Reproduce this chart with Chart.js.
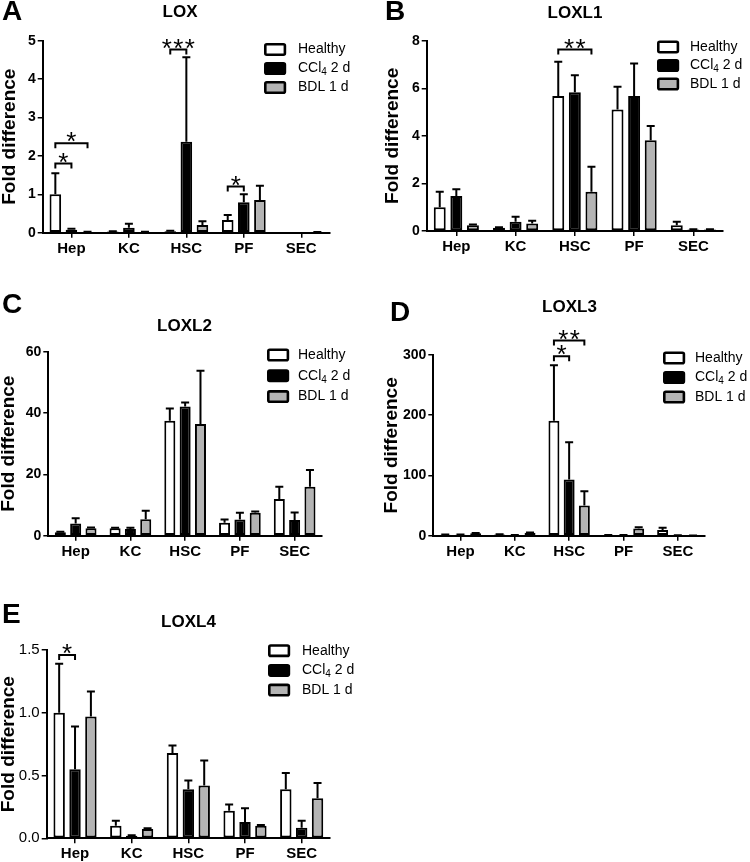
<!DOCTYPE html>
<html lang="en">
<head>
<meta charset="UTF-8" />
<title>LOX family expression by liver cell type</title>
<script src="https://cdn.jsdelivr.net/npm/chart.js@4.4.1/dist/chart.umd.min.js"></script>
<style>
  html, body { margin: 0; background: #fff; overflow: hidden; }
  #fig { position: relative; width: 750px; height: 862px; overflow: hidden; }
  #fig canvas { position: absolute; }
</style>
</head>
<body>
<div id="fig"></div>

<script>
// ---- data ----
const cellTypes = ['Hep', 'KC', 'HSC', 'PF', 'SEC'];
const groupNames = ['Healthy', 'CCl4 2 d', 'BDL 1 d'];

// A: LOX
const loxHealthy = [1.0, 0.03, 0.04, 0.33, 0.01];
const loxHealthyErr = [0.55, 0.01, 0.01, 0.13, 0.0];
const loxCcl4 = [0.08, 0.13, 2.37, 0.79, 0.005];
const loxCcl4Err = [0.02, 0.10, 2.2, 0.21, 0.0];
const loxBdl = [0.02, 0.02, 0.2, 0.85, 0.01];
const loxBdlErr = [0.005, 0.005, 0.1, 0.37, 0.005];
const loxSig = [[0, 0, 1, 1.8, '*'], [0, 0, 2, 2.33, '*'], [2, 0, 1, 4.77, '***'], [3, 0, 1, 1.2, '*']];

// B: LOXL1
const loxl1Healthy = [1.0, 0.14, 5.67, 5.11, 0.24];
const loxl1HealthyErr = [0.65, 0.02, 1.44, 0.95, 0.15];
const loxl1Ccl4 = [1.47, 0.39, 5.83, 5.67, 0.06];
const loxl1Ccl4Err = [0.29, 0.21, 0.72, 1.37, 0.01];
const loxl1Bdl = [0.24, 0.32, 1.65, 3.82, 0.06];
const loxl1BdlErr = [0.03, 0.11, 1.05, 0.59, 0.01];
const loxl1Sig = [[2, 0, 2, 7.63, '**']];

// C: LOXL2
const loxl2Healthy = [1.1, 2.4, 37.5, 4.2, 12];
const loxl2HealthyErr = [0.2, 0.2, 4.0, 1.1, 4.0];
const loxl2Ccl4 = [4.0, 2.2, 42.1, 5.3, 5.1];
const loxl2Ccl4Err = [1.65, 0.4, 1.3, 2.2, 2.5];
const loxl2Bdl = [2.4, 5.4, 36.4, 7.5, 16];
const loxl2BdlErr = [0.3, 2.7, 17.4, 0.4, 5.4];
const loxl2Sig = [];

// D: LOXL3
const loxl3Healthy = [1.5, 2, 191, 1, 9.4];
const loxl3HealthyErr = [0.3, 0.3, 92, 0.2, 3.6];
const loxl3Ccl4 = [1.5, 1, 93.5, 1, 0.5];
const loxl3Ccl4Err = [0.3, 0.2, 61.5, 0.2, 0.1];
const loxl3Bdl = [3.9, 5, 50, 12, 0.3];
const loxl3BdlErr = [0.6, 0.5, 24, 2, 0.1];
const loxl3Sig = [[2, 0, 1, 298, '*'], [2, 0, 2, 324, '**']];

// E: LOXL4
const loxl4Healthy = [1.0, 0.1, 0.68, 0.22, 0.39];
const loxl4HealthyErr = [0.39, 0.04, 0.06, 0.05, 0.13];
const loxl4Ccl4 = [0.55, 0.02, 0.39, 0.13, 0.085];
const loxl4Ccl4Err = [0.34, 0.005, 0.07, 0.11, 0.055];
const loxl4Bdl = [0.97, 0.075, 0.42, 0.1, 0.32];
const loxl4BdlErr = [0.2, 0.005, 0.2, 0.005, 0.12];
const loxl4Sig = [[0, 0, 1, 1.46, '*']];

// ---- styling / layout ----
const FONT = '"Liberation Sans", Arial, sans-serif';
const fills = ['#ffffff', '#000000', '#b4b4b4'];
Chart.defaults.font.family = FONT;
Chart.defaults.color = '#000';

// page coords: box = canvas [x, y, w, h], area = plot area [left, top, right, bottom]
const panels = [
  { letter: 'A', title: 'LOX', box: [0, 0, 375, 275], area: [42.7, 40.7, 330, 232.7], yTitleX: 9.5,
    max: 5, step: 1, dec: 0, tickFont: { size: 14, weight: 'bold' }, titlePos: [180, 12.5], letterPos: [2, 12.5], legend: [264, 49.5, 19, 298],
    values: [loxHealthy, loxCcl4, loxBdl], errs: [loxHealthyErr, loxCcl4Err, loxBdlErr], sig: loxSig },
  { letter: 'B', title: 'LOXL1', box: [375, 0, 375, 275], area: [426.7, 40.7, 723, 231], yTitleX: 392.5,
    max: 8, step: 2, dec: 0, tickFont: { size: 14, weight: 'bold' }, titlePos: [575, 13.5], letterPos: [385, 12.5], legend: [657, 47, 18.5, 690],
    values: [loxl1Healthy, loxl1Ccl4, loxl1Bdl], errs: [loxl1HealthyErr, loxl1Ccl4Err, loxl1BdlErr], sig: loxl1Sig },
  { letter: 'C', title: 'LOXL2', box: [0, 280, 375, 295], area: [48.3, 351.7, 322, 535.7], yTitleX: 9,
    max: 60, step: 20, dec: 0, tickFont: { size: 14, weight: 'bold' }, titlePos: [184.5, 326], letterPos: [2, 305], legend: [267, 355, 20.8, 298],
    values: [loxl2Healthy, loxl2Ccl4, loxl2Bdl], errs: [loxl2HealthyErr, loxl2Ccl4Err, loxl2BdlErr], sig: loxl2Sig },
  { letter: 'D', title: 'LOXL3', box: [375, 280, 375, 295], area: [433.3, 355, 705, 535.7], yTitleX: 392,
    max: 300, step: 100, dec: 0, tickFont: { size: 14, weight: 'bold' }, titlePos: [569.5, 307.5], letterPos: [390, 313], legend: [663, 358, 19.5, 695],
    values: [loxl3Healthy, loxl3Ccl4, loxl3Bdl], errs: [loxl3HealthyErr, loxl3Ccl4Err, loxl3BdlErr], sig: loxl3Sig },
  { letter: 'E', title: 'LOXL4', box: [0, 580, 375, 300], area: [46.7, 650, 330, 838.3], yTitleX: 9,
    max: 1.5, step: 0.5, dec: 1, tickFont: { size: 15, weight: 'normal' }, titlePos: [188.5, 622.5], letterPos: [2, 615], legend: [268, 650.7, 19.7, 302],
    values: [loxl4Healthy, loxl4Ccl4, loxl4Bdl], errs: [loxl4HealthyErr, loxl4Ccl4Err, loxl4BdlErr], sig: loxl4Sig }
];

// error bars, significance brackets, titles and legend
const decor = {
  id: 'decor',
  afterDatasetsDraw(chart, args, o) {
    const ctx = chart.ctx, ys = chart.scales.y;
    ctx.save();
    ctx.strokeStyle = '#000';
    ctx.fillStyle = '#000';
    ctx.lineWidth = 2;
    chart.data.datasets.forEach((ds, di) => {
      chart.getDatasetMeta(di).data.forEach((bar, i) => {
        if (!(ds.err[i] > 0)) return;
        const top = ys.getPixelForValue(ds.data[i] + ds.err[i]);
        ctx.beginPath();
        ctx.moveTo(bar.x, bar.y);
        ctx.lineTo(bar.x, top);
        ctx.moveTo(bar.x - 4, top);
        ctx.lineTo(bar.x + 4, top);
        ctx.stroke();
      });
    });
    o.p.sig.forEach(([cat, a, b, v, label]) => {
      const xa = chart.getDatasetMeta(a).data[cat].x;
      const xb = chart.getDatasetMeta(b).data[cat].x;
      const py = ys.getPixelForValue(v);
      ctx.beginPath();
      ctx.moveTo(xa, py + 5);
      ctx.lineTo(xa, py);
      ctx.lineTo(xb, py);
      ctx.lineTo(xb, py + 5);
      ctx.stroke();
      ctx.font = '26px ' + FONT;
      ctx.textAlign = 'center';
      ctx.textBaseline = 'alphabetic';
      const mid = (xa + xb) / 2, n = label.length;
      for (let k = 0; k < n; k++) ctx.fillText('*', mid + (k - (n - 1) / 2) * 11.5, py + 7);
    });
    ctx.restore();
  },
  afterDraw(chart, args, o) {
    const ctx = chart.ctx, p = o.p, ox = p.box[0], oy = p.box[1];
    ctx.save();
    ctx.fillStyle = '#000';
    ctx.textBaseline = 'middle';
    ctx.textAlign = 'left';
    ctx.font = 'bold 28px ' + FONT;
    ctx.fillText(p.letter, p.letterPos[0] - ox, p.letterPos[1] - oy);
    ctx.textAlign = 'center';
    ctx.font = 'bold 17px ' + FONT;
    ctx.fillText(p.title, p.titlePos[0] - ox, p.titlePos[1] - oy);

    const [lx, ly, dy, tx] = p.legend;
    ctx.textAlign = 'left';
    chart.data.datasets.forEach((ds, k) => {
      const cy = ly - oy + k * dy;
      ctx.fillStyle = fills[k];
      ctx.strokeStyle = '#000';
      ctx.lineWidth = 2.6;
      ctx.beginPath();
      ctx.roundRect(lx - ox + 1.3, cy - 5.2, 19.6, 10.4, 1.5);
      ctx.fill();
      ctx.stroke();
      ctx.fillStyle = '#000';
      let x = tx - ox;
      const m = ds.label.match(/^(CCl)(4)(.*)$/);
      ctx.font = '14px ' + FONT;
      if (m) {
        ctx.fillText(m[1], x, cy); x += ctx.measureText(m[1]).width;
        ctx.font = '10px ' + FONT;
        ctx.fillText(m[2], x, cy + 4); x += ctx.measureText(m[2]).width;
        ctx.font = '14px ' + FONT;
        ctx.fillText(m[3], x, cy);
      } else {
        ctx.fillText(ds.label, x, cy);
      }
    });
    ctx.restore();
  }
};

const fig = document.getElementById('fig');
panels.forEach(p => {
  const [bx, by, bw, bh] = p.box, [l, t, r, b] = p.area;
  const cv = document.createElement('canvas');
  cv.width = bw; cv.height = bh;
  cv.style.left = bx + 'px'; cv.style.top = by + 'px';
  cv.style.width = bw + 'px'; cv.style.height = bh + 'px';
  fig.appendChild(cv);

  const padLeft = p.yTitleX - 9.5 - bx;
  const yWidth = l - bx - padLeft;
  const xHeight = by + bh - b;

  new Chart(cv, {
    type: 'bar',
    data: {
      labels: cellTypes,
      datasets: p.values.map((vals, k) => ({
        label: groupNames[k],
        data: vals,
        err: p.errs[k],
        backgroundColor: fills[k],
        borderColor: '#000',
        borderWidth: 2,
        borderSkipped: false,
        categoryPercentage: 0.84,
        barPercentage: 0.72
      }))
    },
    options: {
      responsive: false,
      animation: false,
      devicePixelRatio: 1,
      layout: { padding: { left: padLeft, top: t - by, right: bx + bw - r, bottom: 0 } },
      plugins: { legend: { display: false }, tooltip: { enabled: false }, decor: { p } },
      scales: {
        x: {
          afterFit(s) { s.height = xHeight; },
          grid: { display: true, drawOnChartArea: false, offset: false, tickLength: 5, color: '#000', lineWidth: 1.5 },
          border: { display: true, color: '#000', width: 2 },
          ticks: { font: { size: 15, weight: 'bold' }, padding: 2, maxRotation: 0, autoSkip: false, color: '#000' }
        },
        y: {
          min: 0, max: p.max,
          afterFit(s) { s.width = yWidth; },
          grid: { display: true, drawOnChartArea: false, tickLength: 5, color: '#000', lineWidth: 1.5 },
          border: { display: true, color: '#000', width: 2 },
          ticks: {
            stepSize: p.step, padding: 2, color: '#000',
            font: p.tickFont,
            callback: v => Number(v).toFixed(p.dec)
          },
          title: { display: true, text: 'Fold difference', color: '#000', padding: 0,
                   font: { size: 19, weight: 'bold', lineHeight: 1 } }
        }
      }
    },
    plugins: [decor]
  });
});
</script>
</body>
</html>
